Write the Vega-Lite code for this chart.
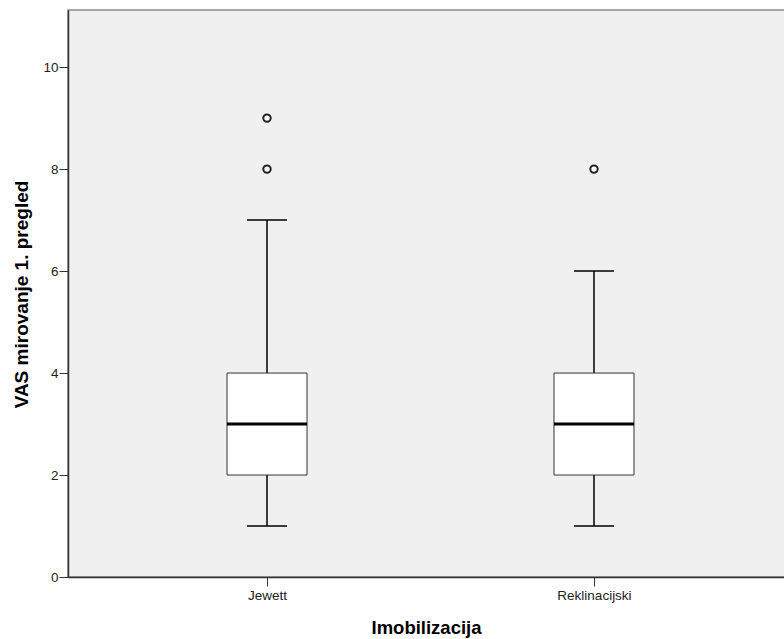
{
  "$schema": "https://vega.github.io/schema/vega-lite/v6.json",
  "autosize": "none",
  "width": 722,
  "height": 567,
  "padding": {"left": 68, "top": 10, "right": 0, "bottom": 62},
  "background": "white",
  "config": {
    "view": {"fill": "#F0F0F0", "stroke": "#8c8c8c", "strokeWidth": 1.5},
    "font": "Liberation Sans",
    "axis": {"domainColor": "#333333", "tickColor": "#333333", "labelColor": "#222222", "titleColor": "#000000", "labelFont": "Liberation Sans", "titleFont": "Liberation Sans", "grid": false}
  },
  "datasets": {
    "stats": [
      {"Imobilizacija": "Jewett", "lower": 1, "q1": 2, "median": 3, "q3": 4, "upper": 7},
      {"Imobilizacija": "Reklinacijski", "lower": 1, "q1": 2, "median": 3, "q3": 4, "upper": 6}
    ],
    "outliers": [
      {"Imobilizacija": "Jewett", "value": 9},
      {"Imobilizacija": "Jewett", "value": 8},
      {"Imobilizacija": "Reklinacijski", "value": 8}
    ]
  },
  "encoding": {
    "x": {
      "field": "Imobilizacija", "type": "nominal",
      "scale": {"type": "point", "domain": ["Jewett", "Reklinacijski"], "range": [0, 725], "padding": 0.6086},
      "axis": {"title": "Imobilizacija", "labelAngle": 0, "labelFontSize": 13.5, "titleFontSize": 18.5, "titleFontWeight": "bold", "titleBaseline": "alphabetic", "titleY": 56, "titleX": 358, "titleAlign": "center", "tickSize": 9, "labelPadding": 2, "domainWidth": 1.5}
    }
  },
  "layer": [
    {
      "data": {"name": "stats"},
      "mark": {"type": "rule", "color": "black", "strokeWidth": 1.5},
      "encoding": {
        "y": {"field": "lower", "type": "quantitative", "scale": {"domain": [0, 11.12], "nice": false, "zero": false},
          "axis": {"title": "VAS mirovanje 1. pregled", "values": [0, 2, 4, 6, 8, 10], "labelFontSize": 13.5, "titleFontSize": 19, "titleFontWeight": "bold", "tickSize": 9, "labelPadding": 1, "titleX": -41, "titleY": 284, "titleAlign": "center", "titleBaseline": "alphabetic", "titleAngle": -90, "domainWidth": 1.5}},
        "y2": {"field": "upper"}
      }
    },
    {
      "data": {"name": "stats"},
      "mark": {"type": "tick", "color": "black", "opacity": 1, "size": 40, "thickness": 1.5, "orient": "horizontal"},
      "encoding": {"y": {"field": "lower", "type": "quantitative"}}
    },
    {
      "data": {"name": "stats"},
      "mark": {"type": "tick", "color": "black", "opacity": 1, "size": 40, "thickness": 1.5, "orient": "horizontal"},
      "encoding": {"y": {"field": "upper", "type": "quantitative"}}
    },
    {
      "data": {"name": "stats"},
      "mark": {"type": "bar", "fill": "white", "stroke": "#333333", "strokeWidth": 1, "size": 80},
      "encoding": {"y": {"field": "q1", "type": "quantitative"}, "y2": {"field": "q3"}}
    },
    {
      "data": {"name": "stats"},
      "mark": {"type": "tick", "color": "black", "opacity": 1, "size": 80, "thickness": 3, "orient": "horizontal"},
      "encoding": {"y": {"field": "median", "type": "quantitative"}}
    },
    {
      "data": {"name": "outliers"},
      "mark": {"type": "point", "shape": "circle", "filled": false, "fill": "white", "fillOpacity": 1, "stroke": "#222222", "strokeWidth": 2, "size": 55, "opacity": 1},
      "encoding": {"y": {"field": "value", "type": "quantitative"}}
    }
  ]
}
